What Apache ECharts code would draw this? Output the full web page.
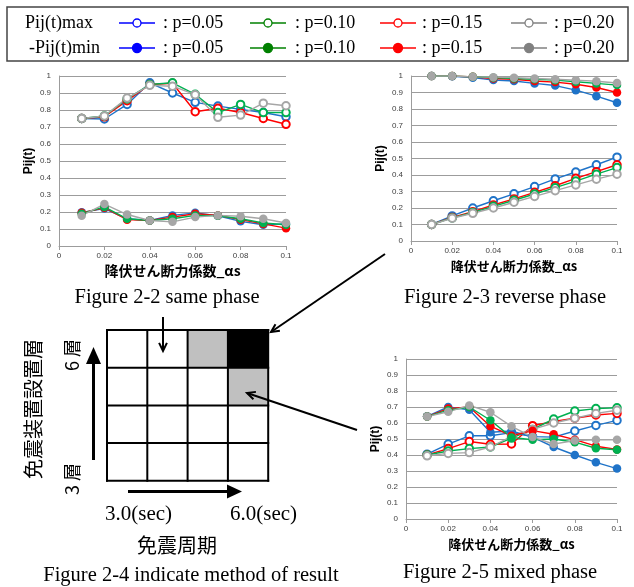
<!DOCTYPE html>
<html>
<head>
<meta charset="utf-8">
<script src="https://cdn.jsdelivr.net/npm/echarts@6/dist/echarts.min.js"></script>
<style>
  html, body { margin: 0; padding: 0; background: #fff; }
  #chart { width: 634px; height: 587px; }
</style>
</head>
<body>
<div id="chart"></div>
<script>
// 降伏せん断力係数 αs
const alphas = [0.01, 0.02, 0.03, 0.04, 0.05, 0.06, 0.07, 0.08, 0.09, 0.1];
const pLabels = ['p=0.05', 'p=0.10', 'p=0.15', 'p=0.20'];

// Figure 2-2 same phase
const sameMaxP05 = [0.75, 0.747, 0.833, 0.96, 0.90, 0.845, 0.823, 0.804, 0.785, 0.76];
const sameMaxP10 = [0.75, 0.765, 0.865, 0.95, 0.96, 0.892, 0.785, 0.833, 0.785, 0.785];
const sameMaxP15 = [0.75, 0.76, 0.855, 0.95, 0.957, 0.79, 0.81, 0.785, 0.75, 0.716];
const sameMaxP20 = [0.75, 0.765, 0.87, 0.945, 0.94, 0.89, 0.757, 0.77, 0.84, 0.825];
const sameMinP05 = [0.198, 0.22, 0.16, 0.15, 0.18, 0.195, 0.178, 0.145, 0.125, 0.13];
const sameMinP10 = [0.19, 0.23, 0.16, 0.15, 0.16, 0.18, 0.178, 0.16, 0.135, 0.125];
const sameMinP15 = [0.195, 0.225, 0.155, 0.15, 0.17, 0.19, 0.18, 0.155, 0.13, 0.105];
const sameMinP20 = [0.178, 0.247, 0.185, 0.15, 0.142, 0.17, 0.18, 0.175, 0.16, 0.135];

// Figure 2-3 reverse phase
const revMaxP05 = [0.1, 0.152, 0.2, 0.244, 0.286, 0.33, 0.376, 0.418, 0.462, 0.508];
const revMaxP10 = [0.1, 0.14, 0.173, 0.21, 0.247, 0.285, 0.323, 0.363, 0.405, 0.445];
const revMaxP15 = [0.1, 0.143, 0.178, 0.218, 0.255, 0.295, 0.335, 0.38, 0.42, 0.462];
const revMaxP20 = [0.1, 0.138, 0.168, 0.2, 0.235, 0.27, 0.305, 0.34, 0.375, 0.405];
const revMinP05 = [1.0, 0.998, 0.99, 0.976, 0.97, 0.955, 0.942, 0.914, 0.878, 0.838];
const revMinP10 = [1.0, 1.0, 0.995, 0.99, 0.985, 0.98, 0.975, 0.965, 0.955, 0.945];
const revMinP15 = [1.0, 1.0, 0.995, 0.985, 0.98, 0.97, 0.963, 0.95, 0.93, 0.9];
const revMinP20 = [1.0, 1.0, 0.995, 0.993, 0.99, 0.985, 0.98, 0.975, 0.968, 0.958];

// Figure 2-5 mixed phase
const mixMaxP05 = [0.405, 0.468, 0.52, 0.52, 0.54, 0.515, 0.512, 0.55, 0.585, 0.616];
const mixMaxP10 = [0.4, 0.425, 0.44, 0.45, 0.506, 0.56, 0.625, 0.675, 0.69, 0.695];
const mixMaxP15 = [0.4, 0.44, 0.484, 0.467, 0.469, 0.583, 0.61, 0.63, 0.65, 0.66];
const mixMaxP20 = [0.395, 0.41, 0.415, 0.45, 0.517, 0.56, 0.6, 0.63, 0.66, 0.68];
const mixMinP05 = [0.642, 0.70, 0.683, 0.542, 0.55, 0.512, 0.45, 0.40, 0.354, 0.315];
const mixMinP10 = [0.64, 0.68, 0.70, 0.617, 0.51, 0.495, 0.5, 0.48, 0.442, 0.433];
const mixMinP15 = [0.64, 0.69, 0.70, 0.58, 0.52, 0.552, 0.53, 0.496, 0.455, 0.435];
const mixMinP20 = [0.64, 0.67, 0.71, 0.667, 0.579, 0.512, 0.469, 0.49, 0.495, 0.495];

// Figure 2-4 のマス目 (上段=6層, 右列=6.0sec)
const cellFill = [
  ['#fff', '#fff', '#c0c0c0', '#000'],
  ['#fff', '#fff', '#fff', '#c0c0c0'],
  ['#fff', '#fff', '#fff', '#fff'],
  ['#fff', '#fff', '#fff', '#fff']
];

const plotColors = ['#1f73c8', '#00b050', '#ff0000', '#a6a6a6'];
const legendColors = ['#0000ff', '#008000', '#ff0000', '#808080'];
const drawOrder = [0, 2, 1, 3];

const panels = [
  { max: [sameMaxP05, sameMaxP10, sameMaxP15, sameMaxP20], min: [sameMinP05, sameMinP10, sameMinP15, sameMinP20] },
  { max: [revMaxP05, revMaxP10, revMaxP15, revMaxP20], min: [revMinP05, revMinP10, revMinP15, revMinP20] },
  { max: [mixMaxP05, mixMaxP10, mixMaxP15, mixMaxP20], min: [mixMinP05, mixMinP10, mixMinP15, mixMinP20] }
];

const grids = [
  { left: 59, top: 76, width: 227, height: 170 },
  { left: 411, top: 76, width: 206, height: 165 },
  { left: 406, top: 359, width: 211, height: 160 }
];

const chart = echarts.init(document.getElementById('chart'));

const gridColor = '#9c9c9c';
const xAxes = grids.map((g, i) => ({
  type: 'value', gridIndex: i, min: 0, max: 0.1, interval: 0.02,
  name: '降伏せん断力係数_αs', nameLocation: 'middle', nameGap: i === 0 ? 18 : 19,
  nameTextStyle: { fontFamily: 'Noto Sans CJK JP', fontWeight: 'bold', fontSize: i === 0 ? 14 : 13, color: '#000' },
  axisLine: { show: true, lineStyle: { color: gridColor } },
  axisTick: { show: true, length: 4, lineStyle: { color: gridColor } },
  axisLabel: { fontFamily: 'Liberation Sans', fontSize: 8, color: '#404040', margin: 6,
    formatter: v => String(+v.toFixed(2)) },
  splitLine: { show: false }
}));
const yAxes = grids.map((g, i) => ({
  type: 'value', gridIndex: i, min: 0, max: 1, interval: 0.1,
  name: 'Pij(t)', nameLocation: 'middle', nameGap: 24, nameRotate: 90,
  nameTextStyle: { fontFamily: 'Liberation Sans', fontWeight: 'bold', fontSize: 12, color: '#000' },
  axisLine: { show: true, lineStyle: { color: gridColor } },
  axisTick: { show: false },
  axisLabel: { fontFamily: 'Liberation Sans', fontSize: 8, color: '#404040', margin: 8,
    formatter: v => String(+v.toFixed(1)) },
  splitLine: { show: true, lineStyle: { color: gridColor, width: 1 } }
}));

const series = [];
panels.forEach((pan, gi) => {
  drawOrder.forEach(k => {
    series.push({
      type: 'line', xAxisIndex: gi, yAxisIndex: gi, name: 'max ' + pLabels[k],
      data: alphas.map((a, j) => [a, pan.max[k][j]]),
      symbol: 'emptyCircle', symbolSize: 7.5,
      lineStyle: { color: plotColors[k], width: 1.4 },
      itemStyle: { color: plotColors[k], borderWidth: 1.3 }
    });
  });
  drawOrder.forEach(k => {
    series.push({
      type: 'line', xAxisIndex: gi, yAxisIndex: gi, name: 'min ' + pLabels[k],
      data: alphas.map((a, j) => [a, pan.min[k][j]]),
      symbol: 'circle', symbolSize: 8.5,
      lineStyle: { color: plotColors[k], width: 1.4 },
      itemStyle: { color: plotColors[k] }
    });
  });
});

// 凡例
const serif = 'Liberation Serif';
const graphic = [];
graphic.push({ type: 'rect', shape: { x: 7, y: 7, width: 621, height: 54 },
  style: { fill: 'none', stroke: '#444', lineWidth: 1.5 } });
graphic.push({ type: 'text', x: 25, y: 23, style: { text: 'Pij(t)max', font: '18px ' + serif, fill: '#000', verticalAlign: 'middle' } });
graphic.push({ type: 'text', x: 29, y: 48, style: { text: '-Pij(t)min', font: '18px ' + serif, fill: '#000', verticalAlign: 'middle' } });
const legLineX = [119, 250, 380, 511];
const legTextX = [163, 295, 422, 554];
legendColors.forEach((c, k) => {
  [23, 48].forEach((yy, r) => {
    graphic.push({ type: 'line', shape: { x1: legLineX[k], y1: yy, x2: legLineX[k] + 36, y2: yy },
      style: { stroke: c, lineWidth: 1.4 } });
    graphic.push({ type: 'circle', shape: { cx: legLineX[k] + 18, cy: yy, r: r === 0 ? 4 : 4.5 },
      style: { fill: r === 0 ? '#fff' : c, stroke: c, lineWidth: 1.3 } });
    graphic.push({ type: 'text', x: legTextX[k], y: yy,
      style: { text: ': ' + pLabels[k], font: '18px ' + serif, fill: '#000', verticalAlign: 'middle' } });
  });
});

// キャプション
const captions = [
  ['Figure 2-2 same phase', 167, 298],
  ['Figure 2-3 reverse phase', 505, 298],
  ['Figure 2-4 indicate method of result', 191, 576],
  ['Figure 2-5 mixed phase', 500, 573]
];
captions.forEach(c => graphic.push({ type: 'text', x: c[1], y: c[2],
  style: { text: c[0], font: '20.5px ' + serif, fill: '#000', align: 'center', verticalAlign: 'middle' } }));

// Figure 2-4
const gx = 107, gy = 330, cw = 40.3, ch = 37.7;
cellFill.forEach((row, r) => row.forEach((f, c) => {
  graphic.push({ type: 'rect', shape: { x: gx + c * cw, y: gy + r * ch, width: cw, height: ch },
    style: { fill: f } });
}));
for (let i = 0; i <= 4; i++) {
  graphic.push({ type: 'line', shape: { x1: gx + i * cw, y1: gy - 1, x2: gx + i * cw, y2: gy + 4 * ch + 1 },
    style: { stroke: '#000', lineWidth: 2 } });
  graphic.push({ type: 'line', shape: { x1: gx - 1, y1: gy + i * ch, x2: gx + 4 * cw + 1, y2: gy + i * ch },
    style: { stroke: '#000', lineWidth: 2 } });
}

function openArrow(x1, y1, x2, y2) {
  const a = Math.atan2(y2 - y1, x2 - x1), L = 9, w = 0.45;
  graphic.push({ type: 'line', shape: { x1, y1, x2, y2 }, style: { stroke: '#000', lineWidth: 2 } });
  graphic.push({ type: 'polyline', shape: { points: [
    [x2 - L * Math.cos(a - w), y2 - L * Math.sin(a - w)], [x2, y2],
    [x2 - L * Math.cos(a + w), y2 - L * Math.sin(a + w)]] },
    style: { stroke: '#000', lineWidth: 2, fill: 'none' } });
}
openArrow(163, 317, 163, 351);
openArrow(385, 254, 271, 332);
openArrow(357, 430, 247, 393);

// 太矢印
graphic.push({ type: 'line', shape: { x1: 93.5, y1: 460, x2: 93.5, y2: 362 }, style: { stroke: '#000', lineWidth: 3 } });
graphic.push({ type: 'polygon', shape: { points: [[86, 364], [101, 364], [93.5, 347]] }, style: { fill: '#000' } });
graphic.push({ type: 'line', shape: { x1: 128, y1: 491.5, x2: 229, y2: 491.5 }, style: { stroke: '#000', lineWidth: 3 } });
graphic.push({ type: 'polygon', shape: { points: [[227, 484.5], [227, 498.5], [242, 491.5]] }, style: { fill: '#000' } });

graphic.push({ type: 'text', x: 105, y: 514, style: { text: '3.0(sec)', font: '21px ' + serif, fill: '#000', verticalAlign: 'middle' } });
graphic.push({ type: 'text', x: 230, y: 514, style: { text: '6.0(sec)', font: '21px ' + serif, fill: '#000', verticalAlign: 'middle' } });
graphic.push({ type: 'text', x: 177, y: 545, style: { text: '免震周期', font: '20px "Noto Sans CJK JP"', fill: '#000', align: 'center', verticalAlign: 'middle' } });
graphic.push({ type: 'text', x: 33, y: 409, rotation: Math.PI / 2,
  style: { text: '免震装置設置層', font: '20px "Noto Sans CJK JP"', fill: '#000', align: 'center', verticalAlign: 'middle' } });
graphic.push({ type: 'text', x: 72, y: 355, rotation: Math.PI / 2,
  style: { text: '6 層', font: '18px "Noto Sans CJK JP"', fill: '#000', align: 'center', verticalAlign: 'middle' } });
graphic.push({ type: 'text', x: 72, y: 479, rotation: Math.PI / 2,
  style: { text: '3 層', font: '18px "Noto Sans CJK JP"', fill: '#000', align: 'center', verticalAlign: 'middle' } });

chart.setOption({
  animation: false,
  backgroundColor: '#fff',
  grid: grids,
  xAxis: xAxes,
  yAxis: yAxes,
  series: series,
  graphic: graphic
});
</script>
</body>
</html>
